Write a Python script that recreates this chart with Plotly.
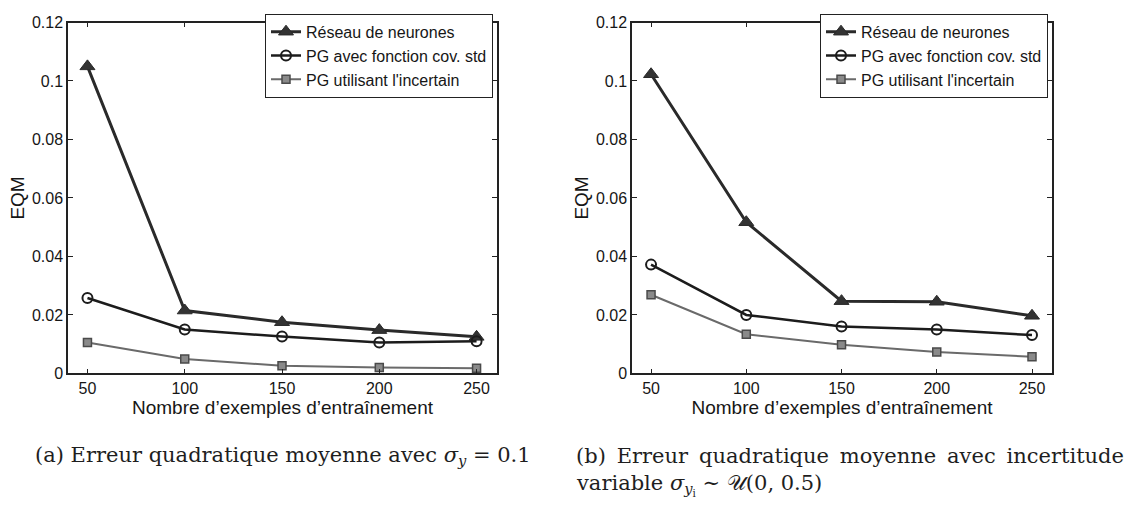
import plotly.graph_objects as go

x_vals = [50, 100, 150, 200, 250]
series_names = ["Réseau de neurones", "PG avec fonction cov. std", "PG utilisant l'incertain"]

# (a) sigma_y = 0.1
a_reseau = [0.105, 0.0215, 0.0175, 0.0148, 0.0125]
a_pg_std = [0.0258, 0.0150, 0.0126, 0.0106, 0.0110]
a_pg_inc = [0.0106, 0.0049, 0.0026, 0.0020, 0.0018]

# (b) variable uncertainty
b_reseau = [0.1023, 0.0517, 0.0247, 0.0245, 0.0197]
b_pg_std = [0.0372, 0.0200, 0.0160, 0.0150, 0.0131]
b_pg_inc = [0.0269, 0.0134, 0.0098, 0.0073, 0.0057]

y_ticks = [0, 0.02, 0.04, 0.06, 0.08, 0.1, 0.12]
y_ticktext = ["0", "0.02", "0.04", "0.06", "0.08", "0.1", "0.12"]
x_title = "Nombre d’exemples d’entraînement"
y_title = "EQM"
TS = "\u2009"
caption_a = "(a) Erreur quadratique moyenne avec <i>σ</i><sub><i>y</i></sub> = 0.1"
caption_b1 = ("(b) " + TS + "Erreur " + TS + "quadratique " + TS + "moyenne " + TS
              + "avec " + TS + "incertitude")
caption_b2 = "variable <i>σ</i><sub><i>y</i><sub>i</sub></sub> ∼ 𝒰(0, 0.5)"

styles = [
    dict(color="#2a2a2a", width=3, symbol="triangle-up", size=13, mcolor="#333333", lcolor="#2a2a2a", lw=1),
    dict(color="#1c1c1c", width=2.5, symbol="circle-open", size=10, mcolor="#1c1c1c", lcolor="#1c1c1c", lw=2),
    dict(color="#6a6a6a", width=2, symbol="square", size=8, mcolor="#8a8a8a", lcolor="#4a4a4a", lw=1.5),
]

FONT = "Liberation Sans, Arial, sans-serif"
TXT = "#161616"
fig = go.Figure()

panels = [
    ("x", "y", "legend", [a_reseau, a_pg_std, a_pg_inc]),
    ("x2", "y2", "legend2", [b_reseau, b_pg_std, b_pg_inc]),
]
for xa, ya, leg, data in panels:
    for name, vals, st in zip(series_names, data, styles):
        fig.add_trace(go.Scatter(
            x=x_vals, y=vals, name=name, mode="lines+markers",
            xaxis=xa, yaxis=ya, legend=leg,
            line=dict(color=st["color"], width=st["width"]),
            marker=dict(symbol=st["symbol"], size=st["size"], color=st["mcolor"],
                        line=dict(color=st["lcolor"], width=st["lw"])),
        ))

axis_common = dict(
    showline=True, linecolor="#222", linewidth=1.5, mirror="ticks",
    ticks="inside", ticklen=5, tickcolor="#222", showgrid=False, zeroline=False,
    tickfont=dict(family=FONT, size=16, color=TXT),
)
xaxis_common = dict(axis_common, range=[40, 260.5], tickvals=x_vals,
                    title=dict(text=x_title, font=dict(family=FONT, size=19, color=TXT), standoff=0))
yaxis_common = dict(axis_common, range=[0, 0.12], tickvals=y_ticks, ticktext=y_ticktext,
                    title=dict(text=y_title, font=dict(family=FONT, size=19, color=TXT), standoff=2))

leg_common = dict(yanchor="top", xanchor="right", bgcolor="white", bordercolor="#222", borderwidth=1,
                  font=dict(family=FONT, size=16, color=TXT), tracegroupgap=0, itemwidth=30)

ydom = [1 - 378 / 510, 1 - 15 / 510]
fig.update_layout(
    width=1132, height=510,
    margin=dict(l=0, r=0, t=0, b=0),
    paper_bgcolor="white", plot_bgcolor="white",
    xaxis=dict(xaxis_common, domain=[68 / 1132, 497 / 1132], anchor="y"),
    yaxis=dict(yaxis_common, domain=ydom, anchor="x"),
    xaxis2=dict(xaxis_common, domain=[632 / 1132, 1052 / 1132], anchor="y2"),
    yaxis2=dict(yaxis_common, domain=ydom, anchor="x2"),
    legend=dict(leg_common, x=493 / 1132, y=1 - 6 / 510),
    legend2=dict(leg_common, x=1048 / 1132, y=1 - 6 / 510),
    showlegend=True,
)

CAP_FONT = dict(family="DejaVu Serif, Liberation Serif, serif", size=21, color="#1e1e1e")
fig.add_annotation(text=caption_a, x=33 / 1132, y=1 - 463 / 510, xref="paper", yref="paper",
                   xanchor="left", yanchor="middle", showarrow=False, font=CAP_FONT)
fig.add_annotation(text=caption_b1, x=574 / 1132, y=1 - 463 / 510, xref="paper", yref="paper",
                   xanchor="left", yanchor="middle", showarrow=False, font=CAP_FONT)
fig.add_annotation(text=caption_b2, x=574 / 1132, y=1 - 493 / 510, xref="paper", yref="paper",
                   xanchor="left", yanchor="middle", showarrow=False, font=CAP_FONT)

fig.write_html("out.html")
